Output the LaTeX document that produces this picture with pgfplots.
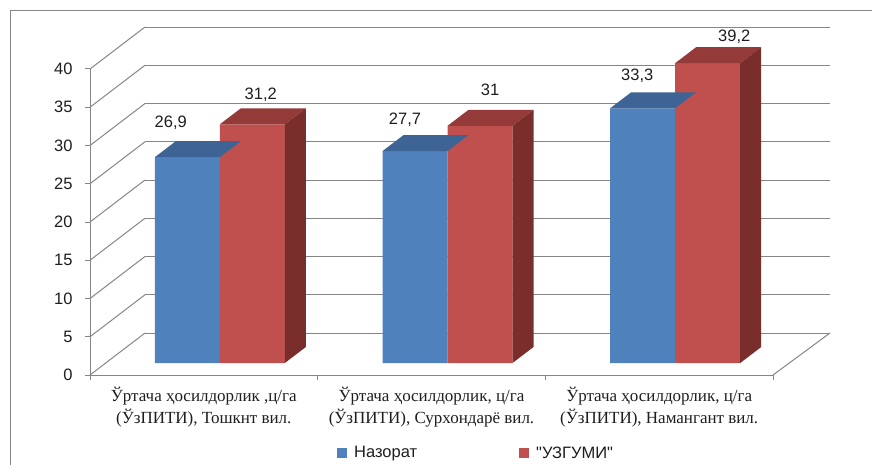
\documentclass[border=0pt]{standalone}
\usepackage{fontspec}
\setmainfont{Liberation Serif}
\setsansfont{Liberation Sans}
\newfontfamily\plainsans{Liberation Sans}
\usepackage{pgfplots}
\usepackage{pgfplotstable}
\pgfplotsset{compat=1.18}
\definecolor{bfront}{RGB}{79,129,189}
\definecolor{btop}{RGB}{61,100,148}
\definecolor{rfront}{RGB}{192,80,77}
\definecolor{rtop}{RGB}{148,58,56}
\definecolor{rside}{RGB}{122,46,44}
\definecolor{gridc}{RGB}{134,134,134}
\definecolor{txt}{RGB}{30,30,30}
\newcommand\fs{\fontsize{16.5}{19}\selectfont}
\newcommand\fc{\fontsize{17}{22}\selectfont}

% x: group centre (pt along the floor); values; label offsets (pt)
\pgfplotstableread{
x nazorat uzgumi bdx bdy rdx rdy
113.8 26.9 31.2 -33 30 57 25
341.5 27.7 31.0 -26.5 27 58.5 30
569.2 33.3 39.2 -22 28 75 21.5
}\datatable

\begin{document}
\begin{tikzpicture}[x=1pt,y=1pt]
\useasboundingbox (0,0) rectangle (872,464);
\clip (0,0) rectangle (872,464);
\draw[gridc, line width=1.2pt] (10.5,-20) rectangle (900,453.5);
\begin{axis}[
  at={(90pt,89pt)}, anchor=south west, scale only axis,
  width=683pt, height=306pt,
  xmin=0, xmax=683, ymin=0, ymax=40, clip=false,
  axis x line=bottom, axis y line=left,
  axis line style={gridc, line width=1pt, -},
  tick align=outside, major tick length=5pt,
  tick style={gridc, line width=1pt},
  ytick={0,5,...,40},
  xtick={0,227.67,455.33,683}, xticklabels={},
  extra x ticks={113.8,341.5,569.2},
  extra x tick labels={{Ўртача ҳосилдорлик ,ц/га\\(ЎзПИТИ), Тошкнт вил.},{Ўртача ҳосилдорлик, ц/га\\(ЎзПИТИ), Сурхондарё вил.},{Ўртача ҳосилдорлик, ц/га\\(ЎзПИТИ), Намангант вил.}},
  extra x tick style={major tick length=0pt},
  xticklabel style={font=\rmfamily\fc, align=center, text=txt, yshift=-9pt},
  yticklabel style={font=\sffamily\fs, text=txt, xshift=-9pt},
  /pgf/number format/assume math mode=true,
  legend style={draw=none, fill=none, at={(0.3616,-0.2549)}, anchor=west,
    legend columns=2, inner sep=0pt, font=\plainsans\fs, text=txt,
    /tikz/every odd column/.append style={column sep=5pt},
    /tikz/every even column/.append style={column sep=100pt}},
  legend image code/.code={\fill[#1] (0pt,-5pt) rectangle (10pt,5pt);},
]
% side wall and back wall grid
\pgfplotsinvokeforeach{0,5,...,40}{
  \addplot[gridc, line width=1pt, forget plot] coordinates {(0,#1) (55,#1+5.49)};
}
\pgfplotsinvokeforeach{0,5,10,15,20,25,30,35,40}{
  \pgfmathsetmacro\lv{#1+5.49}
  \edef\cmd{\noexpand\addplot[gridc, line width=1pt, forget plot] coordinates {(55,\lv) (740,\lv)};}
  \cmd
}
\addplot[gridc, line width=1pt, forget plot] coordinates {(683,0) (740,5.49)};

% front faces
\addplot[ybar, bar width=65pt, bar shift=-16.5pt, fill=bfront, draw=none, yshift=12pt, forget plot] table[x=x,y=nazorat]{\datatable};
\addplot[ybar, bar width=65pt, bar shift=48.5pt, fill=rfront, draw=none, yshift=12pt, forget plot] table[x=x,y=uzgumi]{\datatable};

% top and side faces
\pgfplotsinvokeforeach{0,1,2}{
  \pgfplotstablegetelem{#1}{x}\of\datatable \edef\cx{\pgfplotsretval}
  \pgfplotstablegetelem{#1}{nazorat}\of\datatable \edef\vb{\pgfplotsretval}
  \pgfplotstablegetelem{#1}{uzgumi}\of\datatable \edef\vr{\pgfplotsretval}
  \pgfmathsetmacro\xa{\cx-49}
  \pgfmathsetmacro\xb{\cx+16}
  \pgfmathsetmacro\xc{\cx+37}
  \pgfmathsetmacro\xd{\cx-28}
  \pgfmathsetmacro\xe{\cx+81}
  \pgfmathsetmacro\xf{\cx+102}
  \pgfmathsetmacro\vbt{\vb+2.09}
  \pgfmathsetmacro\vrt{\vr+2.09}
  \edef\cmd{\noexpand\addplot[fill=btop, draw=none, yshift=12pt, forget plot] coordinates {(\xa,\vb) (\xb,\vb) (\xc,\vbt) (\xd,\vbt)};}
  \cmd
  \edef\cmd{\noexpand\addplot[fill=rtop, draw=none, yshift=12pt, forget plot] coordinates {(\xb,\vr) (\xe,\vr) (\xf,\vrt) (\xc,\vrt)};}
  \cmd
  \edef\cmd{\noexpand\addplot[fill=rside, draw=none, yshift=12pt, forget plot] coordinates {(\xe,0) (\xe,\vr) (\xf,\vrt) (\xf,2.09)};}
  \cmd
}

% data labels
\addplot[draw=none, mark=none, forget plot, nodes near coords, point meta=explicit,
  /pgf/number format/use comma, /pgf/number format/fixed, /pgf/number format/precision=1,
  nodes near coords style={font=\sffamily\fs, text=txt, anchor=base}]
  table[x expr=\thisrow{x}+\thisrow{bdx}, y expr=\thisrow{nazorat}+(12+\thisrow{bdy})/7.65, meta=nazorat]{\datatable};
\addplot[draw=none, mark=none, forget plot, nodes near coords, point meta=explicit,
  /pgf/number format/use comma, /pgf/number format/fixed, /pgf/number format/precision=1,
  nodes near coords style={font=\sffamily\fs, text=txt, anchor=base}]
  table[x expr=\thisrow{x}+\thisrow{rdx}, y expr=\thisrow{uzgumi}+(12+\thisrow{rdy})/7.65, meta=uzgumi]{\datatable};

\addlegendimage{fill=bfront, draw=none}
\addlegendentry{Назорат}
\addlegendimage{fill=rfront, draw=none}
\addlegendentry{"УЗГУМИ"}
\end{axis}
\end{tikzpicture}
\end{document}
